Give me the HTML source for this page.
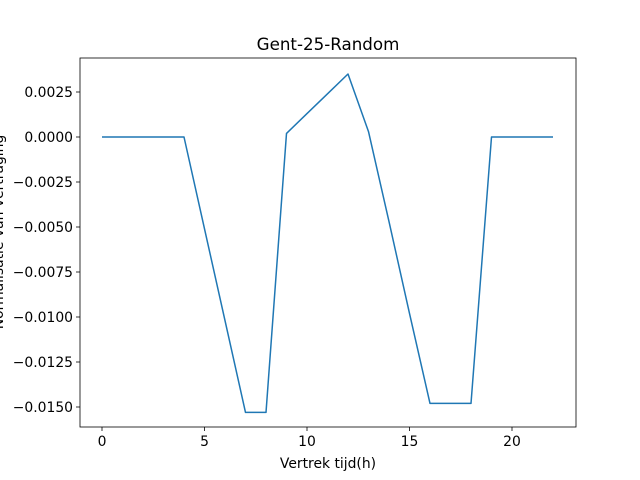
<!DOCTYPE html>
<html><head><meta charset="utf-8"><style>body{margin:0;background:#fff}svg{display:block;font-family:"DejaVu Sans","Liberation Sans",sans-serif}</style></head>
<body>
<svg id="c" width="640" height="480" xmlns="http://www.w3.org/2000/svg"></svg>
<script>
const hours=[0,1,2,3,4,5,6,7,8,9,10,11,12,13,14,15,16,17,18,19,20,21,22];
const values=[0,0,0,0,0,-0.0051,-0.0102,-0.0153,-0.0153,0.0002,0.0013,0.0024,0.0035,0.0003,-0.0047,-0.0098,-0.0148,-0.0148,-0.0148,0,0,0,0];
const xTicks=[0,5,10,15,20];
const yTicks=[0.0025,0,-0.0025,-0.005,-0.0075,-0.01,-0.0125,-0.015];
const yTickLabels=["0.0025","0.0000","−0.0025","−0.0050","−0.0075","−0.0100","−0.0125","−0.0150"];
const L=80,R=576,T=58,B=427;
const sx=v=>102+v*20.5;
const sy=v=>137-v*18000;
const svg=document.getElementById('c');
const NS='http://www.w3.org/2000/svg';
function mk(t,a,txt){const e=document.createElementNS(NS,t);for(const k in a)e.setAttribute(k,a[k]);if(txt!==undefined)e.textContent=txt;svg.appendChild(e);return e;}
let e;
e=mk('text',{x:328,y:50,'text-anchor':'middle','font-size':16.7},'Gent-25-Random');


xTicks.forEach(t=>{
 e=mk('line',{x1:sx(t),x2:sx(t),y1:B,y2:B+4,stroke:'#000','stroke-width':0.8});
 
 
 e=mk('text',{x:sx(t),y:B+19,'text-anchor':'middle','font-size':13.9},String(t));
 
 
});
yTicks.forEach((t,i)=>{
 e=mk('line',{x1:L-4,x2:L,y1:sy(t),y2:sy(t),stroke:'#000','stroke-width':0.8});
 
 
 e=mk('text',{x:L-7,y:sy(t)+5,'text-anchor':'end','font-size':13.9},yTickLabels[i]);
 
 
});
e=mk('text',{x:328,y:468,'text-anchor':'middle','font-size':13.9},'Vertrek tijd(h)');


e=mk('text',{x:0,y:0,'text-anchor':'middle','font-size':13.9,transform:'translate(3,232) rotate(-90)'},'Normalisatie van vertraging');


e=mk('polyline',{points:hours.map((h,i)=>sx(h)+','+sy(values[i])).join(' '),fill:'none',stroke:'#1f77b4','stroke-width':1.5,'stroke-linejoin':'round'});


e=mk('rect',{x:L,y:T,width:R-L,height:B-T,fill:'none',stroke:'#000','stroke-width':0.8});


</script>
</body></html>
